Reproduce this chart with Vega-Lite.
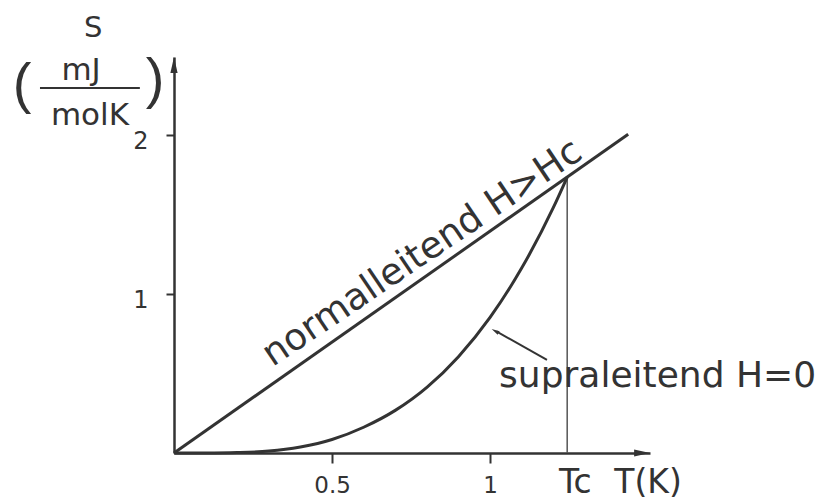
{
  "$schema": "https://vega.github.io/schema/vega-lite/v6.json",
  "width": 476,
  "height": 396,
  "autosize": {"type": "none"},
  "padding": {"left": 174, "top": 57, "right": 189, "bottom": 49},
  "background": "white",
  "config": {"view": {"stroke": null}},
  "datasets": {
    "normal": [{"T": 0, "S": 0}, {"T": 1.437, "S": 2.005}],
    "supra": [
      {"T": 0, "S": 0}, {"T": 0.1, "S": 0.0003}, {"T": 0.2, "S": 0.003}, {"T": 0.3, "S": 0.012}, {"T": 0.4, "S": 0.038},
      {"T": 0.5, "S": 0.085}, {"T": 0.6, "S": 0.162}, {"T": 0.7, "S": 0.268}, {"T": 0.8, "S": 0.413},
      {"T": 0.9, "S": 0.606}, {"T": 1.0, "S": 0.853}, {"T": 1.1, "S": 1.163},
      {"T": 1.2, "S": 1.543}, {"T": 1.244, "S": 1.735}
    ],
    "tc": [{"T": 1.244, "S": 0, "S2": 1.735}],
    "pointer": [{"T": 1.18, "S": 0.585, "T2": 1.02, "S2": 0.765}],
    "pointerHead": [{"T": 1.016, "S": 0.767}],
    "arrowX": [{"T": 1.481, "S": 0}],
    "arrowY": [{"T": 0, "S": 2.44}],
    "fracBar": [{"T": -0.424, "T2": -0.108, "S": 2.296}],
    "tNormal": [{"T": 0.805, "S": 1.2, "label": "normalleitend H>Hc"}],
    "tSupra": [{"T": 1.53, "S": 0.415, "label": "supraleitend H=0"}],
    "tS": [{"T": -0.256, "S": 2.673, "label": "S"}],
    "tFrac": [{"T": -0.294, "S": 2.403, "label": "mJ"}, {"T": -0.266, "S": 2.12, "label": "molK"}],
    "tParen": [{"T": -0.481, "S": 2.314, "label": "("}, {"T": -0.06, "S": 2.346, "label": ")"}],
    "tXlab": [{"T": 1.27, "S": -0.252, "label": "Tc"}, {"T": 1.5, "S": -0.252, "label": "T(K)"}]
  },
  "encoding": {
    "x": {
      "field": "T", "type": "quantitative",
      "scale": {"domain": [0, 1.506], "nice": false, "zero": false},
      "axis": {"values": [0.5, 1], "format": "~g", "title": null, "grid": false,
        "domainColor": "#333", "domainWidth": 2.5, "tickColor": "#333", "tickWidth": 2, "tickSize": 10,
        "labelFont": "DejaVu Sans", "labelFontSize": 23, "labelColor": "#333", "labelPadding": 11}
    },
    "y": {
      "field": "S", "type": "quantitative",
      "scale": {"domain": [0, 2.4906], "nice": false, "zero": false},
      "axis": {"values": [1, 2], "format": "~g", "title": null, "grid": false,
        "domainColor": "#333", "domainWidth": 2.5, "tickColor": "#333", "tickWidth": 2, "tickSize": 8,
        "labelFont": "DejaVu Sans", "labelFontSize": 24, "labelColor": "#333", "labelPadding": 18, "labelOffset": 6}
    }
  },
  "layer": [
    {"data": {"name": "tc"}, "mark": {"type": "rule", "color": "#555", "strokeWidth": 1.5}, "encoding": {"y2": {"field": "S2"}}},
    {"data": {"name": "normal"}, "mark": {"type": "line", "color": "#333", "strokeWidth": 3}},
    {"data": {"name": "supra"}, "mark": {"type": "line", "color": "#333", "strokeWidth": 3, "interpolate": "monotone"}},
    {"data": {"name": "pointer"}, "mark": {"type": "rule", "color": "#333", "strokeWidth": 2}, "encoding": {"x2": {"field": "T2"}, "y2": {"field": "S2"}}},
    {"data": {"name": "pointerHead"}, "mark": {"type": "point", "shape": "M1,0L-1,0.5L-1,-0.5Z", "size": 64, "filled": true, "color": "#333", "opacity": 1, "angle": 209}},
    {"data": {"name": "arrowX"}, "mark": {"type": "point", "shape": "M1,0L-1,0.45L-1,-0.45Z", "size": 256, "filled": true, "color": "#333", "opacity": 1}},
    {"data": {"name": "arrowY"}, "mark": {"type": "point", "shape": "M0,-1L0.45,1L-0.45,1Z", "size": 256, "filled": true, "color": "#333", "opacity": 1}},
    {"data": {"name": "fracBar"}, "mark": {"type": "rule", "color": "#333", "strokeWidth": 2}, "encoding": {"x2": {"field": "T2"}}},
    {"data": {"name": "tNormal"}, "mark": {"type": "text", "font": "DejaVu Sans", "fontSize": 37, "angle": -34, "align": "center", "baseline": "alphabetic", "color": "#333"}, "encoding": {"text": {"field": "label"}}},
    {"data": {"name": "tSupra"}, "mark": {"type": "text", "font": "DejaVu Sans", "fontSize": 36, "align": "center", "baseline": "alphabetic", "color": "#333"}, "encoding": {"text": {"field": "label"}}},
    {"data": {"name": "tS"}, "mark": {"type": "text", "font": "DejaVu Sans", "fontSize": 29, "align": "center", "baseline": "middle", "color": "#333"}, "encoding": {"text": {"field": "label"}}},
    {"data": {"name": "tFrac"}, "mark": {"type": "text", "font": "DejaVu Sans", "fontSize": 31, "align": "center", "baseline": "middle", "color": "#333"}, "encoding": {"text": {"field": "label"}}},
    {"data": {"name": "tParen"}, "mark": {"type": "text", "font": "Liberation Sans", "fontSize": 56, "align": "center", "baseline": "middle", "color": "#333"}, "encoding": {"text": {"field": "label"}}},
    {"data": {"name": "tXlab"}, "mark": {"type": "text", "font": "DejaVu Sans", "fontSize": 33, "align": "center", "baseline": "alphabetic", "color": "#333"}, "encoding": {"text": {"field": "label"}}}
  ]
}
